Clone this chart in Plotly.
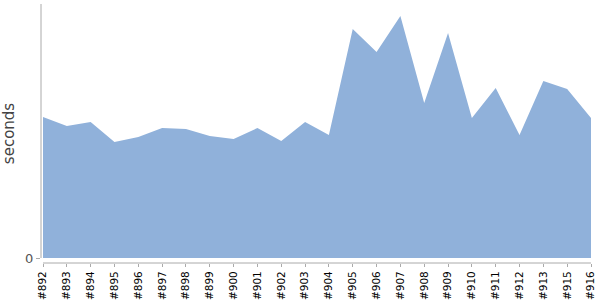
import plotly.graph_objects as go

builds = ["#892", "#893", "#894", "#895", "#896", "#897", "#898", "#899", "#900",
          "#901", "#902", "#903", "#904", "#905", "#906", "#907", "#908", "#909",
          "#910", "#911", "#912", "#913", "#915", "#916"]
seconds = [141, 132, 136, 116, 121, 130, 129, 122, 119, 130, 117, 136, 123,
           229, 206, 242, 155, 225, 140, 170, 123, 177, 169, 140]

fig = go.Figure()
fig.add_trace(go.Scatter(
    x=builds, y=seconds, mode="lines", fill="tozeroy",
    line=dict(width=0, color="#90B1DA"), fillcolor="#90B1DA",
    hoverinfo="x+y", showlegend=False,
))

fig.update_layout(
    width=600, height=300,
    margin=dict(l=41, r=9, t=4, b=37),
    paper_bgcolor="white", plot_bgcolor="white",
    font=dict(family="DejaVu Sans", color="#000"),
    xaxis=dict(
        type="category", range=[-0.084, 23], automargin=False,
        showgrid=False, zeroline=False, showline=False,
        ticks="outside", ticklen=3, tickcolor="#aaa",
        tickangle=-90, tickfont=dict(size=10.5, color="#000"),
    ),
    yaxis=dict(
        range=[-5, 254], automargin=False,
        showgrid=False, zeroline=False, showline=False,
        tickvals=[0], ticktext=["0"], ticks="outside", ticklen=4, tickcolor="#aaa",
        tickfont=dict(size=13, color="#555"),
        title=dict(text="seconds", font=dict(size=15, color="#444"), standoff=13),
    ),
    shapes=[
        dict(type="line", xref="x", yref="paper", x0=0, x1=23, y0=0, y1=0,
             line=dict(color="#aaa", width=1)),
        dict(type="line", xref="paper", yref="y", x0=0, x1=0, y0=0, y1=254,
             line=dict(color="#aaa", width=1)),
    ],
)

fig.write_html("out.html")
